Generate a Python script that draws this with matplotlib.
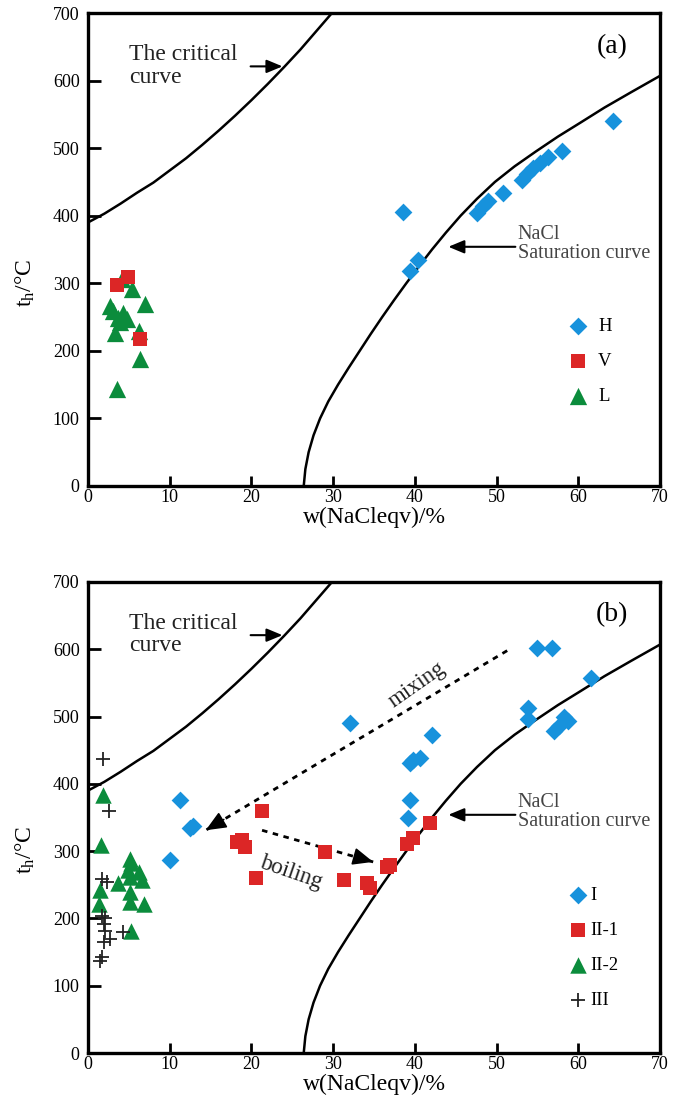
import matplotlib
matplotlib.use('Agg')
import matplotlib.pyplot as plt

plt.rcParams['font.family'] = ['Liberation Serif', 'DejaVu Serif']
plt.rcParams['mathtext.fontset'] = 'custom'
plt.rcParams['mathtext.rm'] = 'Liberation Serif'

# ---------------- data ----------------
# reference curves
crit_x = [0, 2, 4, 6, 8, 10, 12, 14, 16, 18, 20, 22, 24, 26, 28, 30]
crit_y = [390, 403, 418, 434, 449, 467, 485, 505, 526, 548, 571, 595, 620, 646, 674, 702]
sat_x = [26.4, 26.6, 27.0, 27.6, 28.4, 29.4, 30.6, 31.9, 33.25, 34.6, 36.0, 37.45, 38.95,
         40.5, 42.1, 43.8, 45.6, 47.6, 49.8, 52.2, 54.8, 57.5, 60.3, 63.2, 66.5, 70.0]
sat_y = [0, 25, 50, 75, 100, 125, 150, 175, 200, 225, 250, 275, 300,
         325, 350, 375, 400, 425, 450, 473, 495, 517, 538, 560, 583, 607]

# panel (a)
H_x = [38.6, 39.4, 40.4, 47.6, 48.3, 49.0, 50.8, 53.1, 53.7, 54.5, 55.3, 56.3, 58.0, 64.3]
H_y = [406, 318, 334, 404, 415, 422, 433, 453, 461, 470, 478, 487, 496, 540]
V_x = [3.5, 4.9, 6.4]
V_y = [297, 309, 217]
L_x = [4.2, 5.4, 7.0, 2.7, 3.1, 4.3, 3.7, 4.8, 3.9, 3.3, 6.2, 6.4, 3.5]
L_y = [306, 292, 269, 267, 259, 256, 249, 247, 242, 227, 229, 188, 144]

# panel (b)
I_x = [11.3, 12.5, 12.9, 10.0, 32.1, 42.1, 39.8, 40.6, 39.4, 39.4, 39.2,
       53.9, 53.9, 54.9, 56.8, 61.6, 58.2, 58.8, 57.6, 57.0]
I_y = [376, 335, 338, 287, 490, 473, 436, 438, 431, 376, 350,
       512, 496, 602, 602, 558, 500, 493, 486, 478]
II1_x = [18.2, 18.8, 19.2, 21.3, 20.6, 29.0, 31.3, 34.1, 34.5, 36.6, 37.0, 39.0, 39.8, 41.9]
II1_y = [314, 316, 306, 359, 260, 299, 257, 253, 245, 277, 280, 311, 319, 342]
II2_x = [1.8, 1.6, 5.1, 5.3, 4.9, 6.2, 3.7, 5.1, 6.6, 5.1, 1.5, 1.3, 5.1, 6.8, 5.3]
II2_y = [384, 309, 289, 282, 272, 269, 252, 262, 257, 239, 242, 222, 224, 222, 182]
III_x = [1.8, 2.6, 1.7, 2.3, 1.7, 2.1, 1.9, 2.1, 2.7, 1.9, 4.3, 1.7, 1.5]
III_y = [437, 359, 259, 254, 204, 200, 192, 182, 170, 165, 180, 142, 137]

mix_start = (51.3, 598)
mix_end = (14.4, 331)
boil_start = (21.3, 331)
boil_end = (34.9, 284)

xticks = [0, 10, 20, 30, 40, 50, 60, 70]
yticks = [0, 100, 200, 300, 400, 500, 600, 700]

BLUE = '#1792dc'
RED = '#dc2626'
GREEN = '#0b8c3c'

fig = plt.figure(figsize=(6.89, 11.12), dpi=100)
W, Hh = 689, 1112
ax_a = fig.add_axes([88 / W, (Hh - 486) / Hh, 572 / W, 473 / Hh])
ax_b = fig.add_axes([88 / W, (Hh - 1053) / Hh, 572 / W, 471 / Hh])

ARW = dict(arrowstyle='-|>,head_length=0.6,head_width=0.25', lw=1.5, color='black',
           mutation_scale=16, shrinkA=0, shrinkB=0)


def common(ax, tag):
    ax.set_xlim(0, 70)
    ax.set_ylim(0, 700)
    ax.set_xticks(xticks)
    ax.set_yticks(yticks)
    for s in ax.spines.values():
        s.set_linewidth(2.4)
    ax.tick_params(axis='both', direction='in', width=2.0, labelsize=13)
    ax.tick_params(axis='y', length=9, pad=6)
    ax.tick_params(axis='x', length=7, pad=2)
    ax.plot(crit_x, crit_y, color='black', lw=1.8, clip_on=True)
    ax.plot(sat_x, sat_y, color='black', lw=1.8, clip_on=True)
    ax.set_xlabel('w(NaCleqv)/%', fontsize=17, labelpad=1)
    ax.set_ylabel(r'$\mathregular{t_h}$/°C', fontsize=17)
    ax.yaxis.set_label_coords(-0.09, 0.43)
    ax.text(5.0, 622, 'The critical\ncurve', fontsize=17, ha='left', va='center',
            linespacing=1.1, color='#222222')
    ax.annotate('', xy=(23.8, 621), xytext=(19.9, 621), arrowprops=ARW)
    ax.text(52.6, 358, 'NaCl\nSaturation curve', fontsize=14.5, ha='left', va='center',
            linespacing=1.05, color='#444444')
    ax.annotate('', xy=(44.1, 354), xytext=(52.3, 354), arrowprops=ARW)
    ax.text(64.1, 651, tag, fontsize=20, ha='center', va='center')


common(ax_a, '(a)')
common(ax_b, '(b)')

# panel (a) scatter
ax_a.scatter(L_x, L_y, marker='^', s=155, color=GREEN, linewidths=0, label='L', zorder=3)
ax_a.scatter(V_x, V_y, marker='s', s=92, color=RED, linewidths=0, label='V', zorder=4)
ax_a.scatter(H_x, H_y, marker='D', s=82, color=BLUE, linewidths=0, label='H', zorder=4)
hs, ls = ax_a.get_legend_handles_labels()
order = [2, 1, 0]
ax_a.legend([hs[i] for i in order], [ls[i] for i in order], frameon=False,
            loc='upper left', bbox_to_anchor=(0.841, 0.356), borderpad=0, borderaxespad=0,
            handlelength=1.0, handletextpad=0.55, labelspacing=0.95, fontsize=13.5,
            scatterpoints=1)

# panel (b)
ax_b.plot([mix_start[0], mix_end[0]], [mix_start[1], mix_end[1]], color='black', lw=2.0,
          linestyle=(0, (2.0, 2.0)))
ax_b.annotate('', xy=mix_end, xytext=(mix_end[0] + 0.06 * (mix_start[0] - mix_end[0]),
                                      mix_end[1] + 0.06 * (mix_start[1] - mix_end[1])),
              arrowprops=dict(arrowstyle='-|>,head_length=0.7,head_width=0.3', lw=1.2,
                              color='black', mutation_scale=18, shrinkA=0, shrinkB=0))
ax_b.plot([boil_start[0], boil_end[0]], [boil_start[1], boil_end[1]], color='black', lw=2.0,
          linestyle=(0, (2.0, 2.0)))
ax_b.annotate('', xy=boil_end, xytext=(boil_end[0] - 0.15 * (boil_end[0] - boil_start[0]),
                                       boil_end[1] - 0.15 * (boil_end[1] - boil_start[1])),
              arrowprops=dict(arrowstyle='-|>,head_length=0.7,head_width=0.3', lw=1.2,
                              color='black', mutation_scale=18, shrinkA=0, shrinkB=0))
ax_b.text(40.3, 547, 'mixing', fontsize=16.5, rotation=35, ha='center', va='center',
          rotation_mode='anchor', color='#222222')
ax_b.text(24.8, 268, 'boiling', fontsize=16.5, rotation=-19, ha='center', va='center',
          rotation_mode='anchor', color='#222222')

ax_b.scatter(II2_x, II2_y, marker='^', s=140, color=GREEN, linewidths=0, label='II-2', zorder=3)
ax_b.scatter(III_x, III_y, marker='+', s=110, color='#222222', linewidths=1.3, label='III', zorder=3)
ax_b.scatter(II1_x, II1_y, marker='s', s=92, color=RED, linewidths=0, label='II-1', zorder=4)
ax_b.scatter(I_x, I_y, marker='D', s=82, color=BLUE, linewidths=0, label='I', zorder=4)
hs, ls = ax_b.get_legend_handles_labels()
order = [3, 2, 0, 1]
ax_b.legend([hs[i] for i in order], [ls[i] for i in order], frameon=False,
            loc='upper left', bbox_to_anchor=(0.841, 0.352), borderpad=0, borderaxespad=0,
            handlelength=1.0, handletextpad=0.15, labelspacing=0.95, fontsize=13.5,
            scatterpoints=1)

fig.savefig('out.png', dpi=100)
